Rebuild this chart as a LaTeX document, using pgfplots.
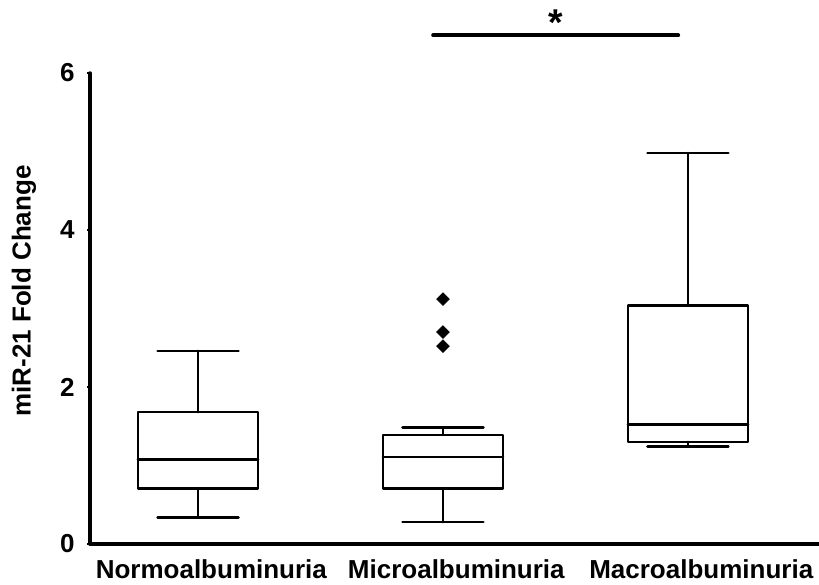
\documentclass[border=0pt]{standalone}
\usepackage{fontspec}
\setmainfont{Liberation Sans}
\usepackage{pgfplots}
\pgfplotsset{compat=1.18}
\usepgfplotslibrary{statistics}
\begin{document}
\begin{tikzpicture}[x=1pt,y=1pt]
\path[use as bounding box] (0,0) rectangle (614.25,438.75);
\begin{axis}[
  at={(67.5pt,30.75pt)}, anchor=south west,
  scale only axis, width=546.75pt, height=353.25pt,
  xmin=0.559, xmax=3.535, ymin=0, ymax=6,
  axis x line=bottom, axis y line=left,
  axis line style={-, line width=2.6pt, line cap=round, black},
  xtick={1,2,3},
  xticklabels={Normoalbuminuria,Microalbuminuria,Macroalbuminuria},
  xtick style={draw=none},
  ytick={0,2,4,6},
  ytick style={line width=1pt, black},
  tick align=outside, major tick length=2pt,
  /pgf/number format/assume math mode=true,
  ticklabel style={font=\bfseries\fontsize{19.5}{22}\selectfont},
  yticklabel style={xshift=-6pt},
  xticklabel style={xshift=10pt, yshift=-6pt},
  ylabel={miR-21 Fold Change},
  ylabel style={font=\bfseries\fontsize{19.5}{22}\selectfont, at={(axis description cs:-0.0905,0.537)}, anchor=center},
  clip=false,
  boxplot/draw direction=y,
  boxplot/box extend=0.49,
  boxplot/whisker extend=0.33,
]
\addplot[black, line width=2pt, line join=round, line cap=round,
  boxplot prepared={draw position=1, lower whisker=0.34, lower quartile=0.71, median=1.08, upper quartile=1.68, upper whisker=2.46}] coordinates {};
\addplot[black, line width=2pt, line join=round, line cap=round,
  boxplot prepared={draw position=2, lower whisker=0.28, lower quartile=0.71, median=1.11, upper quartile=1.39, upper whisker=1.48}] coordinates {};
\addplot[black, line width=2pt, line join=round, line cap=round,
  boxplot prepared={draw position=3, lower whisker=1.24, lower quartile=1.30, median=1.52, upper quartile=3.04, upper whisker=4.98}] coordinates {};
\addplot[only marks, mark=square*, mark size=3.4pt, mark options={rotate=45, fill=black, draw=black}]
  coordinates {(2,3.12) (2,2.70) (2,2.52)};
\addplot[black, line width=3pt, line cap=round] coordinates {(1.96,6.48) (2.96,6.48)};
\node[anchor=base, font=\bfseries\fontsize{28}{30}\selectfont] at (axis cs:2.46,6.48) {*};
\end{axis}
\end{tikzpicture}
\end{document}
